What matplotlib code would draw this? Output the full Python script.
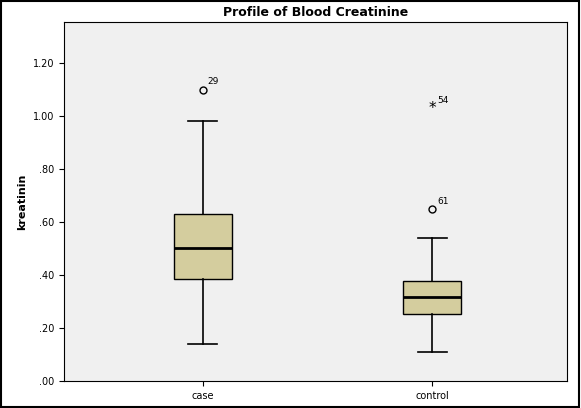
import matplotlib.pyplot as plt

groups = ["case", "control"]
whislo = [0.14, 0.11]
q1 = [0.387, 0.253]
med = [0.503, 0.317]
q3 = [0.632, 0.378]
whishi = [0.98, 0.54]
circ_vals = [[1.10], [0.65]]
circ_labels = [["29"], ["61"]]
star_vals = [[], [1.03]]
star_labels = [[], ["54"]]

fig = plt.figure(figsize=(5.81, 4.08), dpi=100)
ax = fig.add_axes([0.110, 0.066, 0.866, 0.880])
ax.set_facecolor("#f0f0f0")

pos = [0.276, 0.732]
stats = []
for i, g in enumerate(groups):
    stats.append(dict(label=g, whislo=whislo[i], q1=q1[i], med=med[i], q3=q3[i],
                      whishi=whishi[i], fliers=[]))
ax.bxp(stats, positions=pos, widths=0.115, patch_artist=True, showfliers=False,
       boxprops=dict(facecolor="#d4cd9e", edgecolor="black", linewidth=1),
       medianprops=dict(color="black", linewidth=2),
       whiskerprops=dict(color="black", linewidth=1.2),
       capprops=dict(color="black", linewidth=1.2))

for i in range(2):
    for v, lab in zip(circ_vals[i], circ_labels[i]):
        ax.plot(pos[i], v, "o", mfc="none", mec="black", ms=5)
        ax.text(pos[i] + 0.01, v + 0.02, lab, fontsize=6.5)
    for v, lab in zip(star_vals[i], star_labels[i]):
        ax.text(pos[i], v, "*", fontsize=11, ha="center", va="center")
        ax.text(pos[i] + 0.01, v + 0.02, lab, fontsize=6.5)

ax.set_xlim(0, 1)
ax.set_ylim(0, 1.355)
ticks = [0, 0.2, 0.4, 0.6, 0.8, 1.0, 1.2]
ax.set_yticks(ticks)
ax.set_yticklabels([("%.2f" % t)[1:] if t < 1 else "%.2f" % t for t in ticks], fontsize=7)
ax.set_xticks(pos)
ax.set_xticklabels(groups, fontsize=7)
ax.set_ylabel("kreatinin", fontsize=8, fontweight="bold")
ax.set_title("Profile of Blood Creatinine", fontsize=9, fontweight="bold", pad=4)

fig.patches.append(plt.Rectangle((0.002, 0.003), 0.994, 0.994, transform=fig.transFigure,
                                 fill=False, edgecolor="black", linewidth=1.5))
fig.savefig("out.png", dpi=100)
